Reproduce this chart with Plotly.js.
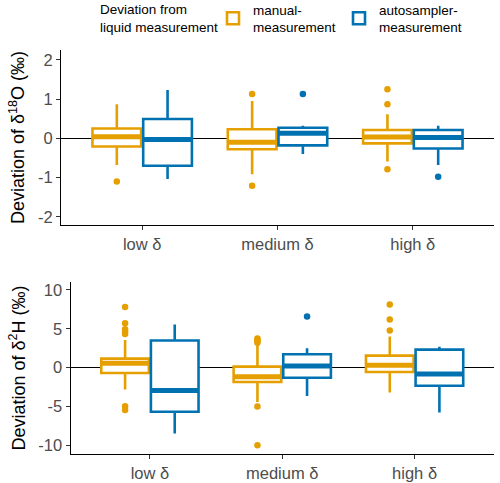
<!DOCTYPE html>
<html>
<head>
<meta charset="utf-8">
<script src="https://cdn.plot.ly/plotly-3.0.1.min.js"></script>
<style>html,body{margin:0;padding:0;background:#fff;}#chart{width:500px;height:483px;}</style>
</head>
<body>
<div id="chart"></div>
<script>
// Categories
const categories = ["low δ", "medium δ", "high δ"];
const catPos = [1, 2, 3];

// δ18O panel — manual measurement
const o18ManualQ1 = [-0.21, -0.28, -0.13];
const o18ManualMed = [0.04, -0.10, 0.03];
const o18ManualQ3 = [0.25, 0.23, 0.21];
const o18ManualLo = [-0.68, -0.92, -0.59];
const o18ManualHi = [0.87, 0.95, 0.61];
const o18ManualOutCat = [1, 2, 2, 3, 3, 3];
const o18ManualOutVal = [-1.10, 1.13, -1.21, 1.25, 0.87, -0.79];

// δ18O panel — autosampler measurement
const o18AutoQ1 = [-0.70, -0.18, -0.26];
const o18AutoMed = [-0.03, 0.13, 0.02];
const o18AutoQ3 = [0.49, 0.27, 0.21];
const o18AutoLo = [-1.04, -0.40, -0.68];
const o18AutoHi = [1.23, 0.32, 0.32];
const o18AutoOutCat = [2, 3];
const o18AutoOutVal = [1.13, -0.98];

// δ2H panel — manual measurement
const h2ManualQ1 = [-0.69, -1.85, -0.56];
const h2ManualMed = [0.56, -1.16, 0.30];
const h2ManualQ3 = [1.16, 0.13, 1.55];
const h2ManualLo = [-2.79, -4.4, -3.18];
const h2ManualHi = [3.56, 2.95, 4.0];
const h2ManualOutCat = [1, 1, 1, 1, 1, 1, 1, 2, 2, 2, 2, 2, 2, 3, 3, 3];
const h2ManualOutVal = [7.8, 5.7, 4.94, 4.6, 4.33, -4.94, -5.45, 3.75, 3.6, 3.4, 3.2, -5.0, -9.96, 8.1, 6.18, 4.76];

// δ2H panel — autosampler measurement
const h2AutoQ1 = [-5.67, -1.29, -2.32];
const h2AutoMed = [-2.92, 0.21, -0.82];
const h2AutoQ3 = [3.48, 1.72, 2.32];
const h2AutoLo = [-8.45, -3.65, -5.75];
const h2AutoHi = [5.54, 2.49, 2.7];
const h2AutoOutCat = [2];
const h2AutoOutVal = [6.57];

// Tick labels
const o18TickVals = [-2, -1, 0, 1, 2];
const o18TickText = ["-2", "-1", "0", "1", "2"];
const h2TickVals = [-10, -5, 0, 5, 10];
const h2TickText = ["-10", "-5", "0", "5", "10"];

const ORANGE = "#E69F00";
const BLUE = "#0072B2";
const OFFSET = 0.1875;
const BOXW = 0.36;

function boxTrace(name, color, shift, q1, med, q3, lo, hi, xa, ya, showLeg) {
  return {
    type: "box", name: name, legendgroup: name, showlegend: showLeg,
    x: catPos.map(p => p + shift),
    q1: q1, median: med, q3: q3, lowerfence: lo, upperfence: hi,
    width: BOXW, whiskerwidth: 0,
    line: {color: color, width: 2.6},
    fillcolor: "rgba(255,255,255,1)",
    boxpoints: false, hoverinfo: "skip",
    xaxis: xa, yaxis: ya
  };
}
function medianTrace(name, color, shift, med, xa, ya) {
  const xs = [], ys = [];
  catPos.forEach((p, i) => {
    xs.push(p + shift - BOXW / 2, p + shift + BOXW / 2, null);
    ys.push(med[i], med[i], null);
  });
  return {type: "scatter", mode: "lines", x: xs, y: ys, showlegend: false, legendgroup: name,
    line: {color: color, width: 5}, hoverinfo: "skip", xaxis: xa, yaxis: ya};
}
function outTrace(name, color, shift, cats, vals, xa, ya) {
  return {type: "scatter", mode: "markers", x: cats.map(c => c + shift), y: vals,
    showlegend: false, legendgroup: name,
    marker: {color: color, size: 6.5}, hoverinfo: "skip", xaxis: xa, yaxis: ya};
}

const MAN = "manual-<br>measurement";
const AUT = "autosampler-<br>measurement";

const data = [
  boxTrace(MAN, ORANGE, -OFFSET, o18ManualQ1, o18ManualMed, o18ManualQ3, o18ManualLo, o18ManualHi, "x", "y", true),
  boxTrace(AUT, BLUE, OFFSET, o18AutoQ1, o18AutoMed, o18AutoQ3, o18AutoLo, o18AutoHi, "x", "y", true),
  medianTrace(MAN, ORANGE, -OFFSET, o18ManualMed, "x", "y"),
  medianTrace(AUT, BLUE, OFFSET, o18AutoMed, "x", "y"),
  outTrace(MAN, ORANGE, -OFFSET, o18ManualOutCat, o18ManualOutVal, "x", "y"),
  outTrace(AUT, BLUE, OFFSET, o18AutoOutCat, o18AutoOutVal, "x", "y"),
  boxTrace(MAN, ORANGE, -OFFSET, h2ManualQ1, h2ManualMed, h2ManualQ3, h2ManualLo, h2ManualHi, "x2", "y2", false),
  boxTrace(AUT, BLUE, OFFSET, h2AutoQ1, h2AutoMed, h2AutoQ3, h2AutoLo, h2AutoHi, "x2", "y2", false),
  medianTrace(MAN, ORANGE, -OFFSET, h2ManualMed, "x2", "y2"),
  medianTrace(AUT, BLUE, OFFSET, h2AutoMed, "x2", "y2"),
  outTrace(MAN, ORANGE, -OFFSET, h2ManualOutCat, h2ManualOutVal, "x2", "y2"),
  outTrace(AUT, BLUE, OFFSET, h2AutoOutCat, h2AutoOutVal, "x2", "y2")
];

const FONT = "Liberation Sans, Arial, sans-serif";
const tickFont = {family: FONT, size: 16.5, color: "#4d4d4d"};
const titleFont = {family: FONT, size: 18, color: "#000"};
const legendFont = {family: FONT, size: 13.5, color: "#000"};

function xAxis(domain, anchor) {
  return {domain: domain, anchor: anchor, range: [0.4, 3.6], tickvals: catPos, ticktext: categories,
    showgrid: false, zeroline: false, showline: true, linecolor: "#000", linewidth: 1,
    ticks: "outside", ticklen: 4, tickcolor: "#333", tickfont: tickFont, fixedrange: true, automargin: false};
}
function yAxis(domain, anchor, range, tv, tt, title) {
  return {domain: domain, anchor: anchor, range: range, tickvals: tv, ticktext: tt,
    showgrid: false, zeroline: true, zerolinecolor: "#000", zerolinewidth: 1.2,
    showline: true, linecolor: "#000", linewidth: 1,
    ticks: "outside", ticklen: 4, tickcolor: "#333", tickfont: tickFont,
    title: {text: title, font: titleFont, standoff: 8}, automargin: false, fixedrange: true};
}

const layout = {
  width: 500, height: 483,
  margin: {l: 0, r: 0, t: 0, b: 0, autoexpand: false},
  paper_bgcolor: "#fff", plot_bgcolor: "#fff",
  font: {family: FONT, color: "#000"},
  showlegend: true,
  xaxis: xAxis([0.122, 0.988], "y"),
  yaxis: yAxis([0.5342, 0.8965], "x", [-2.21, 2.25], o18TickVals, o18TickText, "Deviation of δ<sup>18</sup>O (‰)"),
  xaxis2: xAxis([0.141, 0.988], "y2"),
  yaxis2: yAxis([0.060, 0.4161], "x2", [-11.09, 11.0], h2TickVals, h2TickText, "Deviation of δ<sup>2</sup>H (‰)"),
  legend: {
    orientation: "h", x: 0.426, xanchor: "left", y: 1.012, yanchor: "top",
    font: legendFont, itemwidth: 30, entrywidth: 81, tracegroupgap: 0, bgcolor: "rgba(0,0,0,0)"
  },
  annotations: [{
    text: "Deviation from<br>liquid measurement", xref: "paper", yref: "paper",
    x: 0.195, y: 1.0, xanchor: "left", yanchor: "top", align: "left",
    showarrow: false, font: legendFont
  }]
};

Plotly.newPlot("chart", data, layout, {displayModeBar: false, staticPlot: true});
</script>
</body>
</html>
